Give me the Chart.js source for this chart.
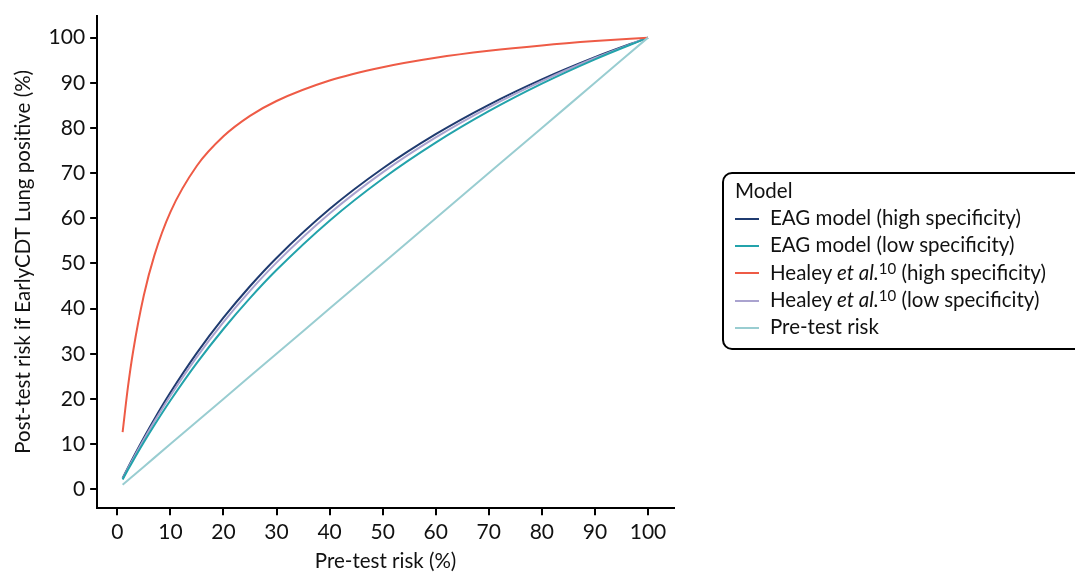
<!DOCTYPE html>
<html><head><meta charset="utf-8">
<script src="https://cdn.jsdelivr.net/npm/chart.js@4/dist/chart.umd.min.js"></script>
<style>
html,body{margin:0;padding:0;background:#fff;}
#wrap{position:relative;width:1075px;height:574px;overflow:hidden;font-family:Lato,"Open Sans",sans-serif;}
#legend{position:absolute;left:722px;top:172px;width:380px;height:178px;border:2px solid #000;border-radius:10px;box-sizing:border-box;padding:3px 0 0 11px;font-size:20.5px;color:#111;}
#legend .t{height:27px;line-height:27px;}
#legend .it{height:27.3px;line-height:27px;white-space:nowrap;}
#legend .sw{display:inline-block;width:24px;height:2px;margin-right:11px;vertical-align:middle;position:relative;top:-1px;}
#legend sup{font-size:15px;vertical-align:6px;line-height:0;}
</style></head>
<body><div id="wrap"><canvas id="c" width="1075" height="574"></canvas>
<div id="legend"></div></div>
<script>
const xs = [1,2,3,5,7,10,15,20,25,30,40,50,60,70,80,90,100];
const eagHigh = [2.42,4.76,7.04,11.42,15.57,21.40,30.19,37.98,44.95,51.22,62.03,71.01,78.61,85.11,90.74,95.66,100];
const eagLow = [2.17,4.30,6.37,10.38,14.21,19.64,27.97,35.48,42.31,48.53,59.46,68.75,76.74,83.70,89.80,95.19,100];
const healeyHigh = [12.62,22.59,30.67,42.94,51.84,61.37,71.62,78.14,82.66,85.97,90.51,93.46,95.55,97.09,98.28,99.23,100];
const healeyLow = [2.32,4.58,6.78,11.01,15.03,20.70,29.31,37.01,43.93,50.18,61.04,70.15,77.90,84.58,90.38,95.49,100];
const preTest = [1,2,3,5,7,10,15,20,25,30,40,50,60,70,80,90,100];
const tickValues = [0,10,20,30,40,50,60,70,80,90,100];
const seriesNames = ["EAG model (high specificity)","EAG model (low specificity)","Healey <i>et al.</i><sup>10</sup> (high specificity)","Healey <i>et al.</i><sup>10</sup> (low specificity)","Pre-test risk"];
const colors = ["#1f3b70","#23a3ab","#ee5b46","#aaa3cf","#99cdd1"];
const series = [eagHigh, eagLow, healeyHigh, healeyLow, preTest];

const plain = ["EAG model (high specificity)","EAG model (low specificity)","Healey et al.10 (high specificity)","Healey et al.10 (low specificity)","Pre-test risk"];
const drawOrder = [4,2,1,3,0];
const datasets = drawOrder.map(i => ({
  label: plain[i],
  data: xs.map((x,k)=>({x:x,y:series[i][k]})),
  borderColor: colors[i], borderWidth: 2, pointRadius: 0, fill:false,
  cubicInterpolationMode: 'monotone'
}));
const font = {family:"Lato", size:21};
const yfont = {family:"Lato", size:21, lineHeight:1};
const setTicks = ax => { ax.ticks = tickValues.map(v=>({value:v})); };
new Chart(document.getElementById('c'), {
  type:'line',
  data:{datasets},
  options:{
    responsive:false, animation:false,
    layout:{padding:{left:11,right:401,top:14,bottom:0}},
    plugins:{legend:{display:false},tooltip:{enabled:false}},
    scales:{
      x:{type:'linear', min:-3.8, max:104.9, afterBuildTicks:setTicks,
        grid:{drawOnChartArea:false, drawTicks:true, tickLength:7, color:'#000', lineWidth:2},
        border:{color:'#000', width:2},
        ticks:{color:'#111', font, padding:4, maxRotation:0},
        title:{display:true, text:'Pre-test risk (%)', color:'#111', font:{family:"Lato",size:20.5}, padding:{top:1,bottom:0}}},
      y:{type:'linear', min:-4.2, max:104.9, afterBuildTicks:setTicks,
        grid:{drawOnChartArea:false, drawTicks:true, tickLength:7, color:'#000', lineWidth:2},
        border:{color:'#000', width:2},
        ticks:{color:'#111', font:yfont, padding:5},
        title:{display:true, text:'Post-test risk if EarlyCDT Lung positive (%)', color:'#111', font:{family:"Lato",size:20.5}, padding:{top:0,bottom:8}}}
    }
  }
});
const lg = document.getElementById('legend');
let h = '<div class="t">Model</div>';
seriesNames.forEach((n,i)=>{ h += '<div class="it"><span class="sw" style="background:'+colors[i]+'"></span>'+n+'</div>'; });
lg.innerHTML = h;
</script></body></html>
